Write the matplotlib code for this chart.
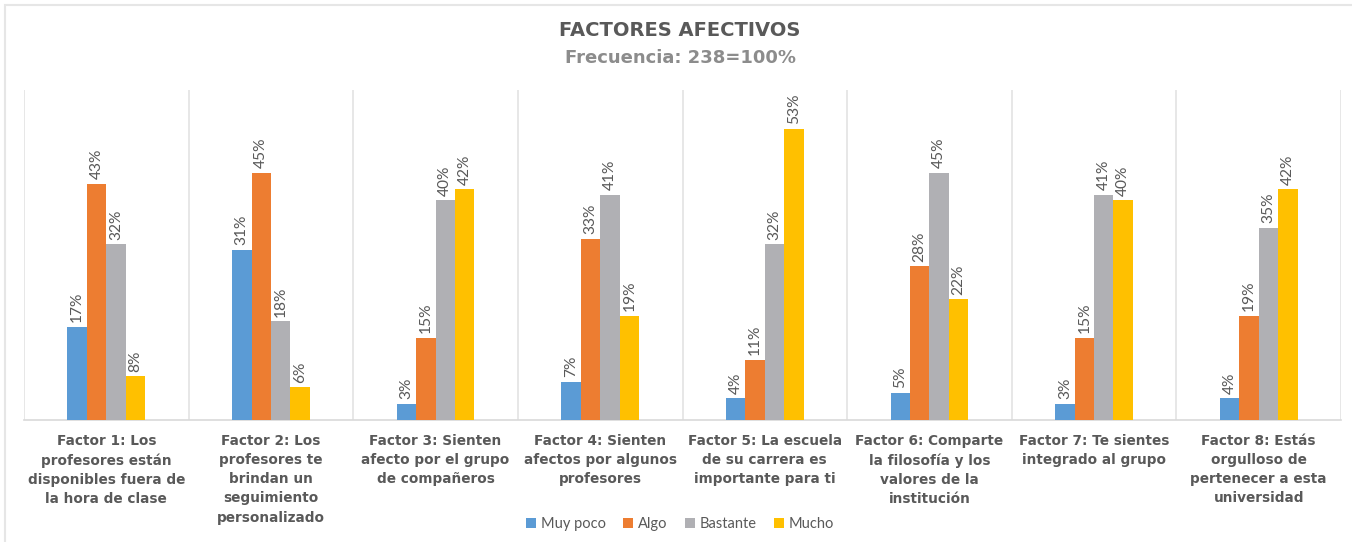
import matplotlib.pyplot as plt
import numpy as np
from matplotlib.patches import Rectangle

# datos (porcentajes)
factores = [
    'Factor 1: Los\nprofesores están\ndisponibles fuera de\nla hora de clase',
    'Factor 2: Los\nprofesores te\nbrindan un\nseguimiento\npersonalizado',
    'Factor 3: Sienten\nafecto por el grupo\nde compañeros',
    'Factor 4: Sienten\nafectos por algunos\nprofesores',
    'Factor 5: La escuela\nde su carrera es\nimportante para ti',
    'Factor 6: Comparte\nla filosofía y los\nvalores de la\ninstitución',
    'Factor 7: Te sientes\nintegrado al grupo',
    'Factor 8: Estás\norgulloso de\npertenecer a esta\nuniversidad',
]
series = ['Muy poco', 'Algo', 'Bastante', 'Mucho']
muy_poco = [17, 31, 3, 7, 4, 5, 3, 4]
algo = [43, 45, 15, 33, 11, 28, 15, 19]
bastante = [32, 18, 40, 41, 32, 45, 41, 35]
mucho = [8, 6, 42, 19, 53, 22, 40, 42]

colores = ['#5B9BD5', '#ED7D31', '#B0B0B4', '#FFC000']
valores = [muy_poco, algo, bastante, mucho]

fig = plt.figure(figsize=(13.52, 5.42), dpi=100)
ax = fig.add_axes([24/1352, 122/542, (1341-24)/1352, (420-90)/542])

# marco exterior
fig.patches.append(Rectangle((5/1352, -0.1), 1.2, (537+0.1*542)/542, transform=fig.transFigure,
                             fill=False, edgecolor='#E6E6E6', linewidth=1.5))

n = len(factores)
x = np.arange(n)
width = 0.118

for i, (serie, vals) in enumerate(zip(series, valores)):
    pos = x + (i - 1.5) * width
    bars = ax.bar(pos, vals, width, color=colores[i], label=serie, zorder=3)
    for b, v in zip(bars, vals):
        ax.text(b.get_x() + b.get_width()/2, v + 0.8, f'{v}%', rotation=90,
                ha='center', va='bottom', fontsize=11.2, color='#595959', family='Lato')

ax.set_xlim(-0.5, n - 0.5)
ax.set_ylim(0, 60)
ax.set_yticks([])
ax.set_xticks(x)
ax.set_xticklabels(factores, fontsize=9.8, fontweight='bold', color='#595959',
                   family='DejaVu Sans', linespacing=1.47)
ax.tick_params(axis='x', length=0, pad=10)

# líneas verticales entre categorías
for xv in np.arange(-0.5, n, 1):
    ax.axvline(xv, color='#E3E3E3', linewidth=1.2, zorder=1)

for s in ['top', 'left', 'right']:
    ax.spines[s].set_visible(False)
ax.spines['bottom'].set_color('#D9D9D9')
ax.spines['bottom'].set_linewidth(1.2)

fig.text(0.503, 1 - 30/542, 'FACTORES AFECTIVOS', ha='center', va='center',
         fontsize=14, fontweight='bold', color='#595959', family='DejaVu Sans')
fig.text(0.503, 1 - 58/542, 'Frecuencia: 238=100%', ha='center', va='center',
         fontsize=13, fontweight='bold', color='#8C8C8C', family='DejaVu Sans')

leg = fig.legend(loc='center', bbox_to_anchor=(0.503, 1 - 524/542), ncol=4, frameon=False,
                 prop={'family': 'Lato', 'size': 10.5}, handlelength=0.7, handleheight=0.7,
                 handletextpad=0.3, columnspacing=1.2)
for t in leg.get_texts():
    t.set_color('#595959')

fig.savefig('out.png', dpi=100)
